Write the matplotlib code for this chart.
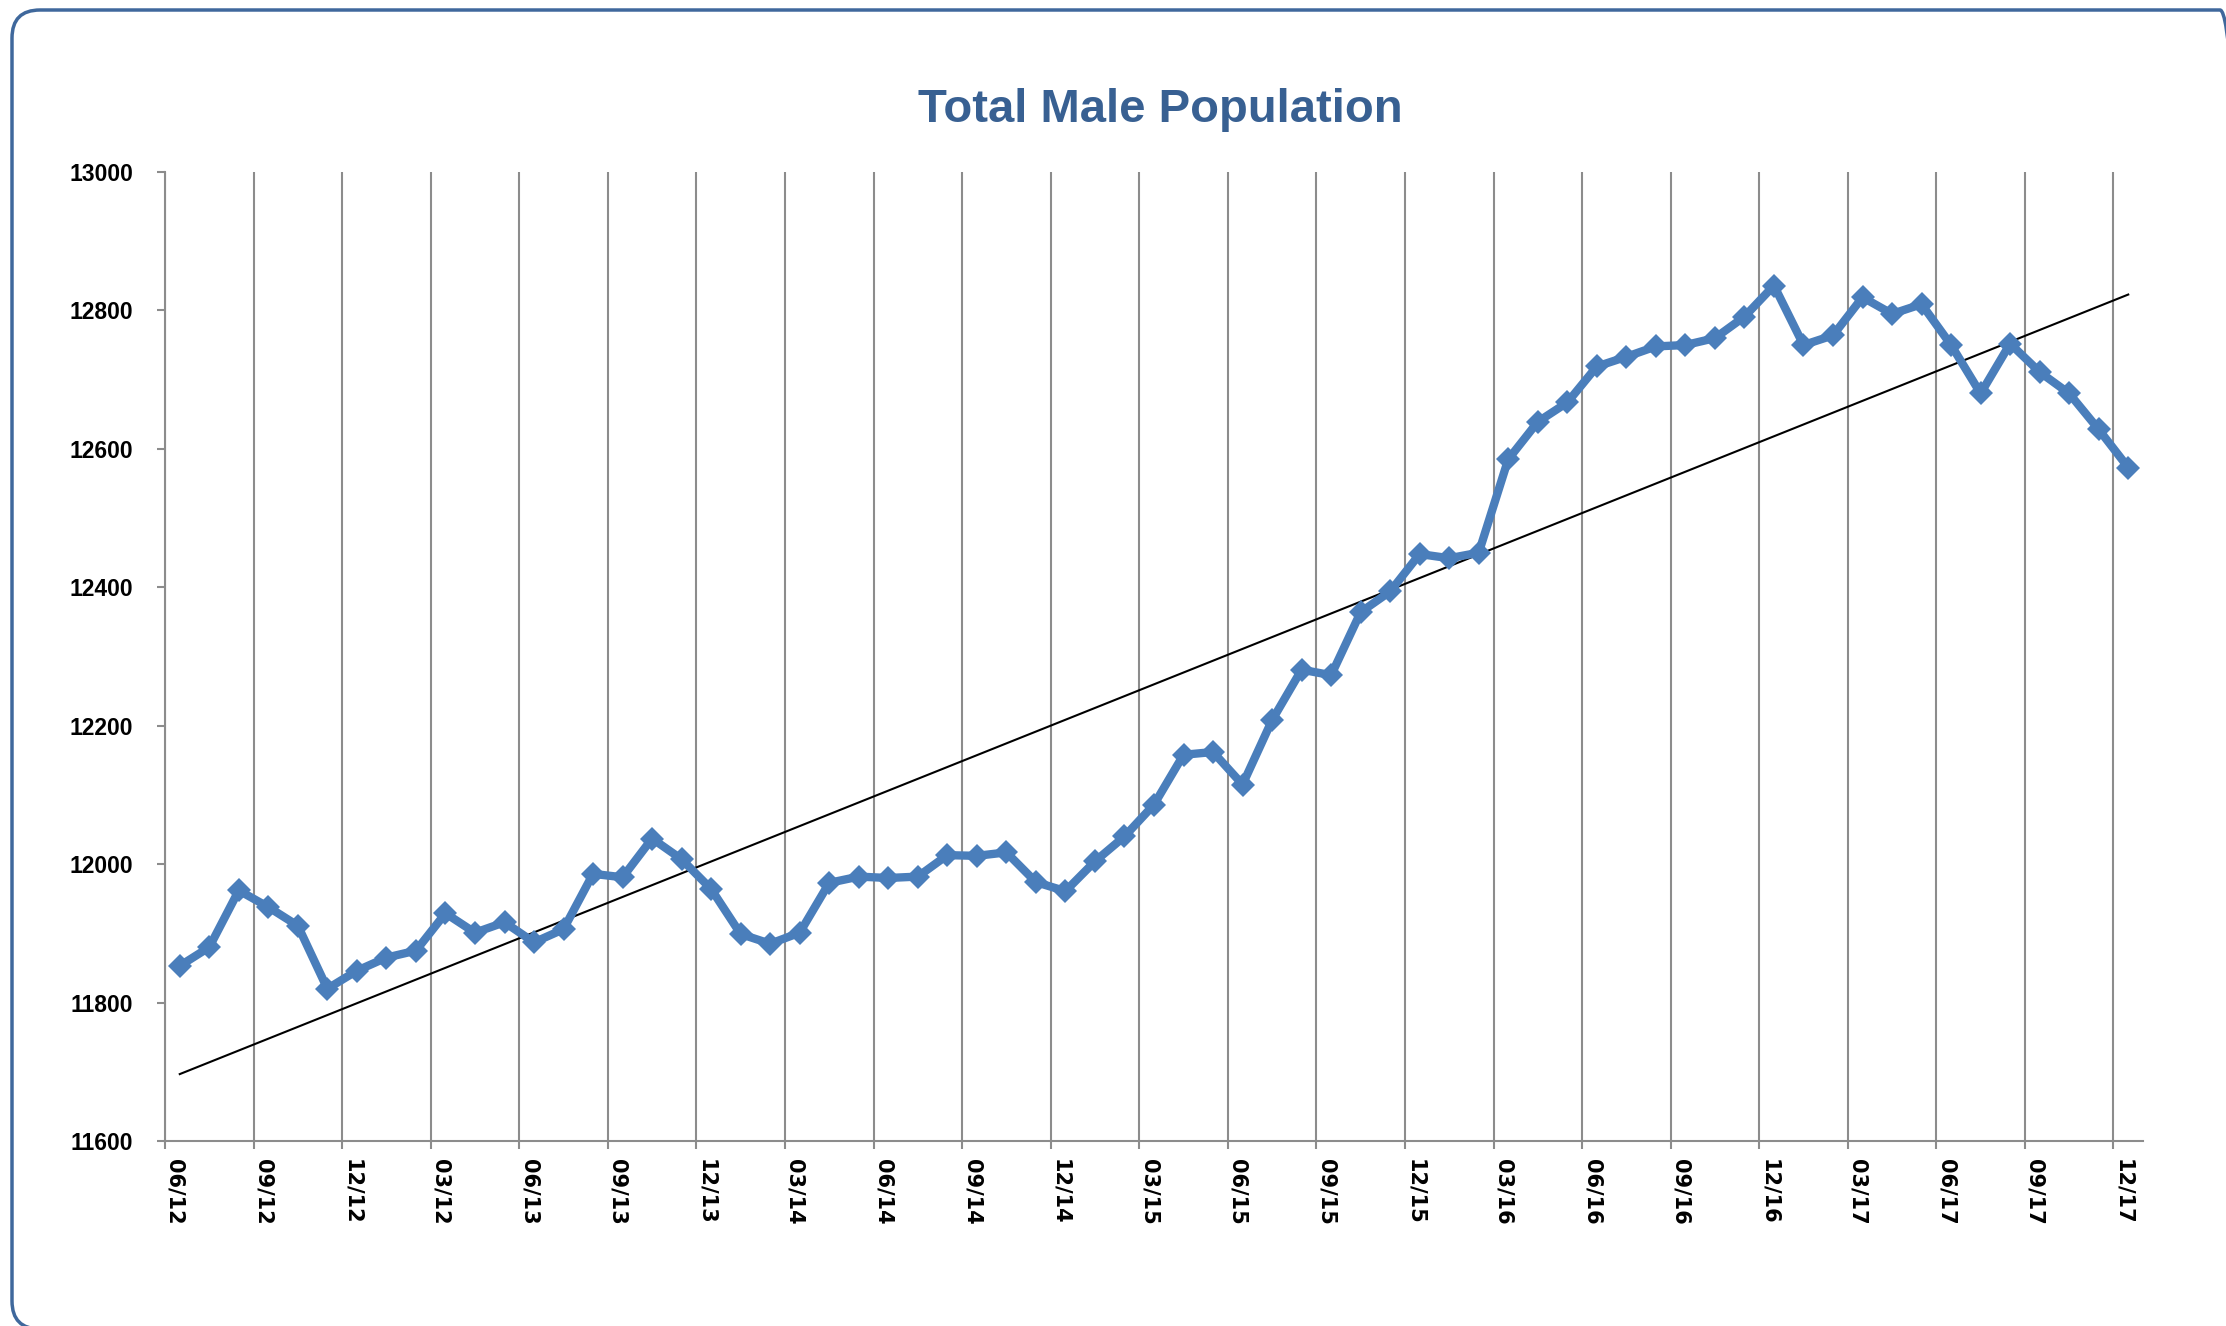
import matplotlib.pyplot as plt
import numpy as np
from matplotlib.patches import FancyBboxPatch
from matplotlib.transforms import ScaledTranslation

# valeurs mensuelles 06/12 -> 12/17
population = [11853, 11880, 11962, 11938, 11911, 11820, 11846, 11865, 11875, 11929,
              11901, 11916, 11887, 11906, 11986, 11981, 12037, 12007, 11964, 11899,
              11885, 11901, 11973, 11982, 11980, 11982, 12013, 12012, 12017, 11974,
              11961, 12004, 12040, 12086, 12158, 12162, 12115, 12208, 12281, 12273,
              12364, 12394, 12448, 12442, 12450, 12585, 12639, 12667, 12719, 12733,
              12748, 12750, 12760, 12791, 12836, 12750, 12764, 12819, 12795, 12809,
              12750, 12680, 12752, 12711, 12680, 12628, 12573]

tick_labels = ['06/12', '09/12', '12/12', '03/12', '06/13', '09/13', '12/13', '03/14',
               '06/14', '09/14', '12/14', '03/15', '06/15', '09/15', '12/15', '03/16',
               '06/16', '09/16', '12/16', '03/17', '06/17', '09/17', '12/17']

y_ticks = [11600, 11800, 12000, 12200, 12400, 12600, 12800, 13000]

blue = '#4A7EBB'
grey = '#8C8C8C'

fig = plt.figure(figsize=(22.26, 13.26), dpi=100)

# cadre arrondi (en pouces pour garder des coins ronds)
border = FancyBboxPatch((0.12, -0.03), 22.36, 13.19,
                        boxstyle="round,pad=0,rounding_size=0.28",
                        transform=fig.dpi_scale_trans, fill=False,
                        edgecolor='#3F689C', linewidth=2.5, clip_on=False)
fig.patches.append(border)

ax = fig.add_axes([165 / 2226, 1 - 1141 / 1326, (2143 - 165) / 2226, (1141 - 172) / 1326])

n = len(population)
x = np.arange(n) + 0.5
y = np.array(population)

# tendance linéaire
coef = np.polyfit(x, y, 1)
ax.plot(x, np.polyval(coef, x), color='black', linewidth=1.5, zorder=3)

ax.plot(x, y, color=blue, linewidth=6, marker='D', markersize=12.5,
        markeredgewidth=0, zorder=4)

ax.set_xlim(0, n)
ax.set_ylim(11600, 13000)

ax.set_xticks(np.arange(0, n, 3))
ax.set_xticklabels(tick_labels, rotation=-90, fontsize=15, fontweight='bold',
                   family='DejaVu Sans', ha='left', va='top')
offset = ScaledTranslation(4 / 100, 0, fig.dpi_scale_trans)
for lab in ax.get_xticklabels():
    lab.set_transform(lab.get_transform() + offset)

ax.set_yticks(y_ticks)
ax.set_yticklabels([str(v) for v in y_ticks], fontsize=16.5, fontweight='bold',
                   family='Liberation Sans')

ax.tick_params(axis='x', direction='out', length=6, width=1.5, color=grey, pad=7)
ax.tick_params(axis='y', direction='out', length=6, width=1.5, color=grey, pad=17)

ax.grid(True, axis='x', color=grey, linewidth=1.5)
ax.set_axisbelow(True)

for side in ['top', 'right']:
    ax.spines[side].set_visible(False)
for side in ['left', 'bottom']:
    ax.spines[side].set_color(grey)
    ax.spines[side].set_linewidth(1.5)

fig.text(1160 / 2226, 1 - 122 / 1326, 'Total Male Population', ha='center',
         va='baseline', fontsize=34, fontweight='bold', color='#386092',
         family='Liberation Sans')

fig.savefig('out.png', dpi=100)
